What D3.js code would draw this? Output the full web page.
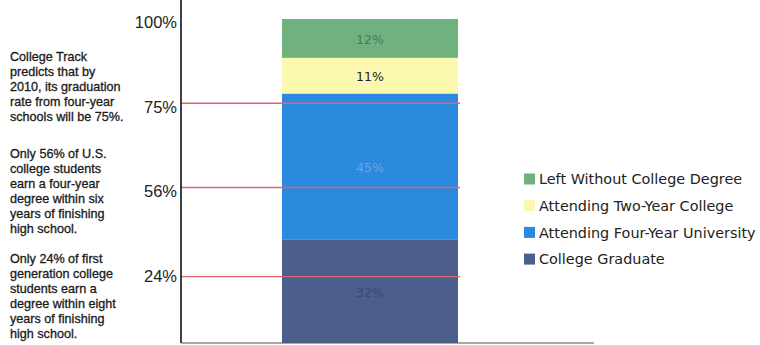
<!DOCTYPE html>
<html>
<head>
<meta charset="utf-8">
<script src="https://cdn.jsdelivr.net/npm/d3@7"></script>
<style>
  html, body { margin: 0; padding: 0; background: #fff; }
  svg { display: block; }
</style>
</head>
<body>
<svg id="chart" width="760" height="345"></svg>
<script>
// ---- data ----
const categories = ["College Graduate", "Attending Four-Year University", "Attending Two-Year College", "Left Without College Degree"];
const values = [32, 45, 11, 12];
const segmentLabels = ["32%", "45%", "11%", "12%"];
const colors = ["#4b5e8c", "#2b89de", "#fcf8b0", "#70b27f"];
const labelColors = ["#3c4a70", "#6aa6dc", "#222222", "#4a7a58"];
const legendOrder = ["Left Without College Degree", "Attending Two-Year College", "Attending Four-Year University", "College Graduate"];
// reference lines: label and the height at which the picture draws them
const refLabels = ["75%", "56%", "24%"];
const refPositions = [74, 48, 20.5];
const topTickLabel = "100%";
const notes = [
  ["College Track", "predicts that by", "2010, its graduation", "rate from four-year", "schools will be 75%."],
  ["Only 56% of U.S.", "college students", "earn a four-year", "degree within six", "years of finishing", "high school."],
  ["Only 24% of first", "generation college", "students earn a", "degree within eight", "years of finishing", "high school."]
];
const noteTops = [56.5, 153.5, 258.5];

// ---- layout ----
const svg = d3.select("#chart");
const axisX = 181, baseY = 343, topY = 19;
const y = d3.scaleLinear().domain([0, 100]).range([baseY, topY]);
const x = d3.scaleBand().domain(["bar"]).range([282, 458]).padding(0);
const sansFont = "'Liberation Sans', Arial, Helvetica, sans-serif";
const verdFont = "'DejaVu Sans', Verdana, sans-serif";

// stacked data
const stackRows = [Object.fromEntries(categories.map((c, i) => [c, values[i]]))];
const stacked = d3.stack().keys(categories)(stackRows);

// bars
svg.append("g").selectAll("rect").data(stacked).join("rect")
  .attr("x", x("bar"))
  .attr("width", x.bandwidth())
  .attr("y", d => y(d[0][1]))
  .attr("height", d => y(d[0][0]) - y(d[0][1]))
  .attr("fill", (d, i) => colors[i]);

// segment labels
svg.append("g").selectAll("text").data(stacked).join("text")
  .attr("x", x("bar") + x.bandwidth() / 2)
  .attr("y", d => (y(d[0][0]) + y(d[0][1])) / 2 + 1)
  .attr("dy", "0.35em")
  .attr("text-anchor", "middle")
  .style("font-family", verdFont)
  .attr("font-size", 12.5)
  .attr("fill", (d, i) => labelColors[i])
  .text((d, i) => segmentLabels[i]);

// reference lines
svg.append("g").selectAll("line").data(refPositions).join("line")
  .attr("x1", axisX).attr("x2", 460)
  .attr("y1", d => y(d)).attr("y2", d => y(d))
  .attr("stroke", "#e06470")
  .attr("stroke-width", 1.3);

// axes lines
svg.append("line").attr("x1", axisX).attr("x2", axisX).attr("y1", 0).attr("y2", baseY)
  .attr("stroke", "#111").attr("stroke-width", 1.6);
svg.append("line").attr("x1", axisX).attr("x2", 594).attr("y1", baseY).attr("y2", baseY)
  .attr("stroke", "#555").attr("stroke-width", 1.2);

// tick labels
svg.append("text").attr("x", 177).attr("y", y(100) + 3).attr("dy", "0.35em")
  .attr("text-anchor", "end").style("font-family", sansFont).attr("font-size", 16.5).attr("fill", "#222")
  .text(topTickLabel);
svg.append("g").selectAll("text").data(refPositions).join("text")
  .attr("x", 177)
  .attr("y", (d, i) => y(d) + (i < 2 ? 3.5 : 0))
  .attr("dy", "0.35em")
  .attr("text-anchor", "end")
  .style("font-family", sansFont)
  .attr("font-size", 16.5)
  .attr("fill", "#222")
  .text((d, i) => refLabels[i]);

// notes
const notesG = svg.append("g")
  .style("font-family", sansFont)
  .attr("font-size", 12.6)
  .attr("fill", "#1a1a1a")
  .attr("stroke", "#1a1a1a")
  .attr("stroke-width", 0.3);
notes.forEach((lines, k) => {
  notesG.append("g").selectAll("text").data(lines).join("text")
    .attr("x", 10)
    .attr("y", (d, i) => noteTops[k] + i * 15.1)
    .attr("dy", "0.35em")
    .text(d => d);
});

// legend
const legendColor = d3.scaleOrdinal().domain(categories).range(colors);
const leg = svg.append("g").attr("transform", "translate(524,179)");
const rows = leg.selectAll("g").data(legendOrder).join("g")
  .attr("transform", (d, i) => `translate(0,${i * 26.7})`);
rows.append("rect").attr("x", 0).attr("y", -5.5).attr("width", 11).attr("height", 11)
  .attr("fill", d => legendColor(d));
rows.append("text").attr("x", 15).attr("y", 0).attr("dy", "0.36em")
  .style("font-family", verdFont)
  .attr("font-size", 14.4)
  .attr("fill", "#222")
  .text(d => d);
</script>
</body>
</html>
